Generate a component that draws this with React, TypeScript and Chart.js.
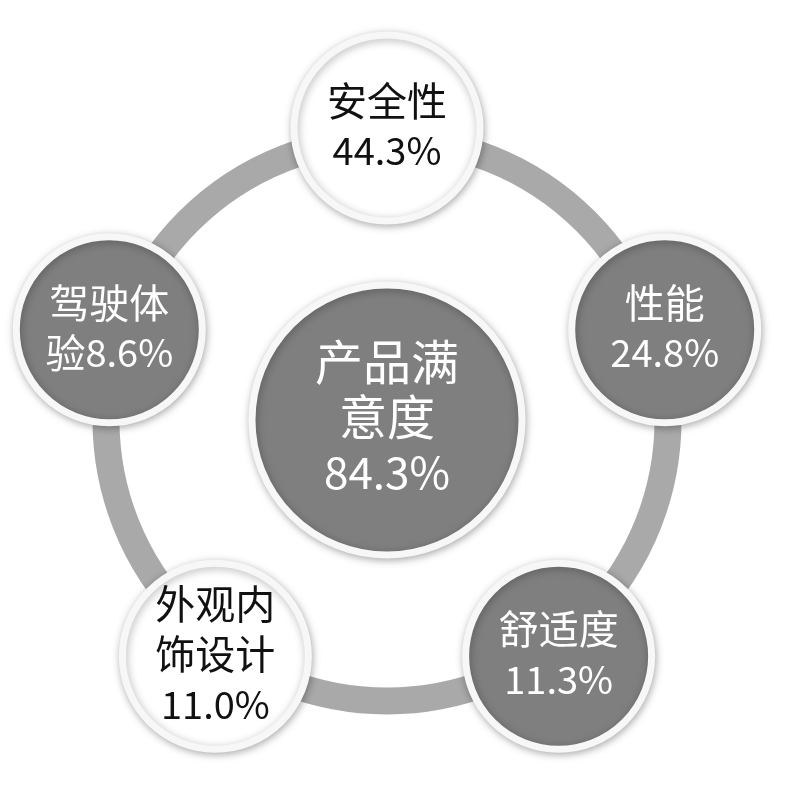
import { useEffect, useRef } from "react";
import { Chart, registerables, Plugin } from "chart.js";

Chart.register(...registerables);

// Data
const centerLines = ["产品满", "意度"];
const centerValue = 84.3;
const categories = ["安全性", "性能", "舒适度", "外观内饰设计", "驾驶体验"];
const labelLines = [["安全性"], ["性能"], ["舒适度"], ["外观内", "饰设计"], ["驾驶体", "验"]];
const shares = [44.3, 24.8, 11.3, 11.0, 8.6];
const valueInline = [false, false, false, false, true];
const highlighted = [true, false, false, true, false];

// Layout (pixels, canvas space)
const W = 785;
const H = 800;
const CX = 387;
const CY = 420;
const ORBIT = 292;
const RING_R = 281;
const OUTER_R = 97;
const CENTER_R = 139;

const GRAY = "#7f7f7f";
const RING = "#a9a9a9";
const FONT = '"Noto Sans CJK SC", "Noto Sans", sans-serif';

const orbitPoints = categories.map((_, i) => {
  const a = ((-90 + 72 * i) * Math.PI) / 180;
  return { x: CX + ORBIT * Math.cos(a), y: CY + ORBIT * Math.sin(a) };
});

const fmt = (v: number) => v.toFixed(1) + "%";

// shadow for circle datasets
const shadowPlugin: Plugin = {
  id: "circleShadow",
  beforeDatasetDraw(chart, args) {
    const ds: any = chart.data.datasets[args.index];
    if (ds.shadow) {
      chart.ctx.shadowColor = "rgba(0,0,0,0.28)";
      chart.ctx.shadowBlur = 8;
      chart.ctx.shadowOffsetX = 1;
      chart.ctx.shadowOffsetY = 2;
    }
  },
  afterDatasetDraw(chart) {
    chart.ctx.shadowColor = "rgba(0,0,0,0)";
    chart.ctx.shadowBlur = 0;
    chart.ctx.shadowOffsetX = 0;
    chart.ctx.shadowOffsetY = 0;
  },
};

// text inside the bubbles; percentages are set a little smaller than the words
const labelPlugin: Plugin = {
  id: "bubbleLabels",
  afterDatasetsDraw(chart) {
    const ctx = chart.ctx;
    ctx.save();
    ctx.textAlign = "center";
    ctx.textBaseline = "middle";

    const drawLine = (t: string, x: number, y: number, cjk: number, num: number) => {
      // split into CJK part and numeric part so each gets its own size
      const m = t.match(/^([^\d]*)(.*)$/);
      const head = m ? m[1] : t;
      const tail = m ? m[2] : "";
      ctx.font = `${cjk}px ${FONT}`;
      const wh = ctx.measureText(head).width;
      ctx.font = `${num}px ${FONT}`;
      const wt = ctx.measureText(tail).width;
      let left = x - (wh + wt) / 2;
      ctx.textAlign = "left";
      ctx.font = `${cjk}px ${FONT}`;
      ctx.fillText(head, left, y);
      left += wh;
      ctx.font = `${num}px ${FONT}`;
      ctx.fillText(tail, left, y);
    };

    const cp = chart.getDatasetMeta(2).data[0];
    const cLines = [...centerLines, fmt(centerValue)];
    ctx.fillStyle = "#ffffff";
    const cLh = 55;
    cLines.forEach((t, k) => {
      drawLine(t, cp.x, cp.y - 3 + (k - (cLines.length - 1) / 2) * cLh, 48, 44);
    });

    const meta = chart.getDatasetMeta(1);
    meta.data.forEach((pt, i) => {
      const lines = [...labelLines[i]];
      if (valueInline[i]) lines[lines.length - 1] += fmt(shares[i]);
      else lines.push(fmt(shares[i]));
      ctx.fillStyle = highlighted[i] ? "#111111" : "#ffffff";
      const lh = 50;
      lines.forEach((t, k) => {
        drawLine(t, pt.x, pt.y - 2 + (k - (lines.length - 1) / 2) * lh, 40, 38);
      });
    });
    ctx.restore();
  },
};

export default function App() {
  const chartRef = useRef<HTMLCanvasElement>(null);
  const chartInstance = useRef<Chart | null>(null);

  useEffect(() => {
    if (!chartRef.current) return;
    if (chartInstance.current) chartInstance.current.destroy();
    const ctx = chartRef.current.getContext("2d");
    if (!ctx) return;

    chartInstance.current = new Chart(ctx, {
      type: "bubble",
      data: {
        datasets: [
          // ring
          {
            label: "ring",
            data: [{ x: CX, y: CY, r: RING_R }],
            backgroundColor: "rgba(0,0,0,0)",
            borderColor: RING,
            borderWidth: 27,
            order: 5,
            clip: false,
          } as any,
          // outer circles
          {
            label: "categories",
            data: orbitPoints.map((p) => ({ x: p.x, y: p.y, r: OUTER_R - 4 })),
            backgroundColor: highlighted.map((h) => (h ? "#ffffff" : GRAY)),
            borderColor: "#f7f7f7",
            borderWidth: 7,
            order: 1,
            clip: false,
            shadow: true,
          } as any,
          // center circle
          {
            label: "center",
            data: [{ x: CX, y: CY, r: CENTER_R - 4 }],
            backgroundColor: GRAY,
            borderColor: "#f7f7f7",
            borderWidth: 7,
            order: 2,
            clip: false,
            shadow: true,
          } as any,
        ],
      },
      options: {
        animation: false,
        responsive: true,
        maintainAspectRatio: false,
        layout: { padding: 0, autoPadding: false },
        events: [],
        plugins: {
          legend: { display: false },
          tooltip: { enabled: false },
        },
        scales: {
          x: { type: "linear", min: 0, max: W, display: false },
          y: { type: "linear", min: 0, max: H, reverse: true, display: false },
        },
      },
      plugins: [shadowPlugin, labelPlugin],
    });

    return () => {
      if (chartInstance.current) {
        chartInstance.current.destroy();
        chartInstance.current = null;
      }
    };
  }, []);

  return (
    <div style={{ position: "absolute", left: 0, top: 0, width: W, height: H, background: "#ffffff" }}>
      <canvas ref={chartRef}></canvas>
    </div>
  );
}
